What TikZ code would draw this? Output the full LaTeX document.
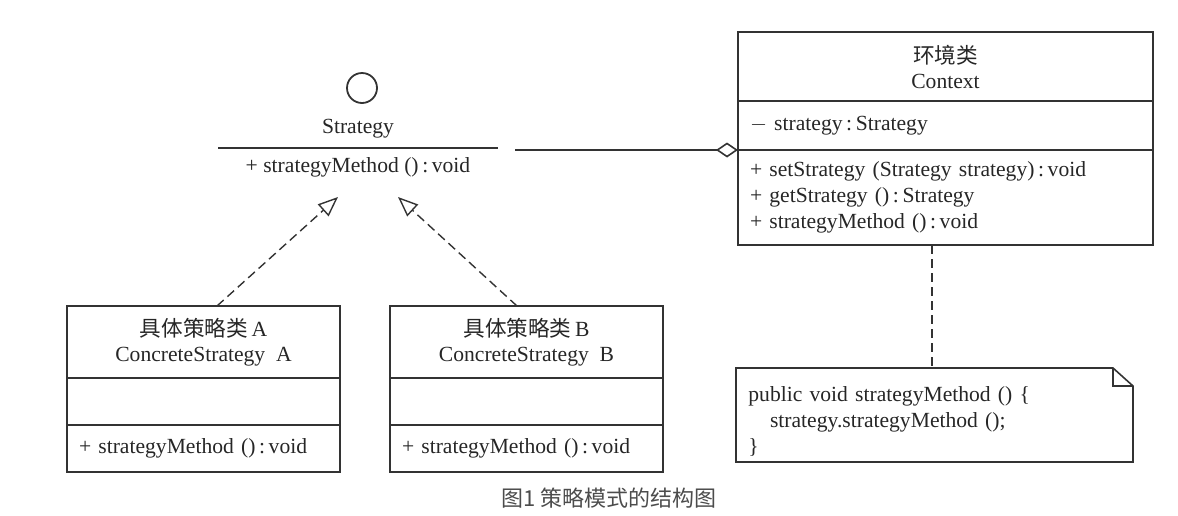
\documentclass[tikz,border=0pt]{standalone}
\usepackage{fontspec}
\setmainfont{Liberation Serif}
\newfontfamily\cjk{Noto Sans CJK SC}
\usetikzlibrary{positioning, arrows.meta}

\begin{document}
\begin{tikzpicture}[x=0.5pt, y=-0.5pt,
          font=\fontsize{10.8}{12.5}\selectfont,
          every node/.style={text=black!85},
          part/.style={draw=black!80, line width=0.8pt, inner sep=0pt, outer sep=0pt},
          head/.style={part, align=center},
          ops/.style={part, align=left, inner xsep=6pt, font=\fontsize{10.8}{13}\selectfont},
          longdash/.style={dash pattern=on 4.5pt off 2.5pt, line width=0.7pt, draw=black!80},
          realize/.style={longdash, -{Triangle[open, length=10pt, width=8pt]}},
          agg/.style={line width=0.8pt, draw=black!80,
            -{Diamond[open, length=11pt, width=7.5pt]}}
        ]
          \useasboundingbox (0,0) rectangle (1178,515);

          % interface Strategy (lollipop)
          \node[draw=black!80, line width=0.9pt, circle, minimum size=15pt, inner sep=0pt] (lolli) at (362,88) {};
          \node (sName) at (358,129) {Strategy};
          \coordinate (sL) at (218,148);
          \coordinate (sR) at (498,148);
          \draw[line width=0.8pt, draw=black!80] (sL) -- (sR);
          \node (sOps) at (358,167) {+ strategyMethod ()\,:\,void};

          % context class
          \node[head, minimum width=207.5pt, minimum height=34.5pt, anchor=north west] (ctxHead) at (738,32)
            {{\cjk 环境类}\\Context};
          \node[ops, text width=195.5pt, minimum height=24.5pt, below=0pt of ctxHead] (ctxAttr)
            {$-$ strategy\,:\,Strategy};
          \node[ops, text width=195.5pt, minimum height=47.5pt, below=0pt of ctxAttr] (ctxOps)
            {+ setStrategy (Strategy strategy)\,:\,void\\+ getStrategy ()\,:\,Strategy\\+ strategyMethod ()\,:\,void};

          % concrete strategy A
          \node[head, minimum width=136.5pt, minimum height=36pt, anchor=north west] (aHead) at (67,306)
            {{\cjk 具体策略类}\,A\\ConcreteStrategy\ \ A};
          \node[part, minimum width=136.5pt, minimum height=23.5pt, below=0pt of aHead] (aAttr) {};
          \node[ops, text width=124.5pt, minimum height=23.5pt, below=0pt of aAttr] (aOps)
            {+ strategyMethod ()\,:\,void};

          % concrete strategy B
          \node[head, minimum width=136.5pt, minimum height=36pt, anchor=north west] (bHead) at (390,306)
            {{\cjk 具体策略类}\,B\\ConcreteStrategy\ \ B};
          \node[part, minimum width=136.5pt, minimum height=23.5pt, below=0pt of bHead] (bAttr) {};
          \node[ops, text width=124.5pt, minimum height=23.5pt, below=0pt of bAttr] (bOps)
            {+ strategyMethod ()\,:\,void};

          % note
          \node[align=left, anchor=north west, text width=190pt, minimum height=47pt, inner sep=0pt,
                font=\fontsize{10.8}{13}\selectfont] (note) at (748,374)
            {public void strategyMethod () \{\\\hspace*{1em}strategy.strategyMethod ();\\\}};
          \coordinate (nNW) at (736,368);
          \coordinate (nSE) at (1133,462);
          \draw[line width=0.8pt, draw=black!80] (nNW) -- (1113,368) -- (1133,386) -- (nSE) -- (736,462) -- cycle;
          \draw[line width=0.8pt, draw=black!80] (1113,368) -- (1113,386) -- (1133,386);

          % relations
          \draw[realize] ([xshift=6.75pt]aHead.north) -- (338,197);
          \draw[realize] ([xshift=-4.75pt]bHead.north) -- (398,197);
          \draw[agg] (ctxAttr.south west -| 515,0) -- (ctxAttr.south west);
          \draw[longdash] (ctxOps.south -| 932,0) -- (932,368);

          % caption
          \node[font=\cjk\fontsize{11}{13}\selectfont, text=black!70] (caption) at (609,498) {图1 策略模式的结构图};
\end{tikzpicture}
\end{document}
